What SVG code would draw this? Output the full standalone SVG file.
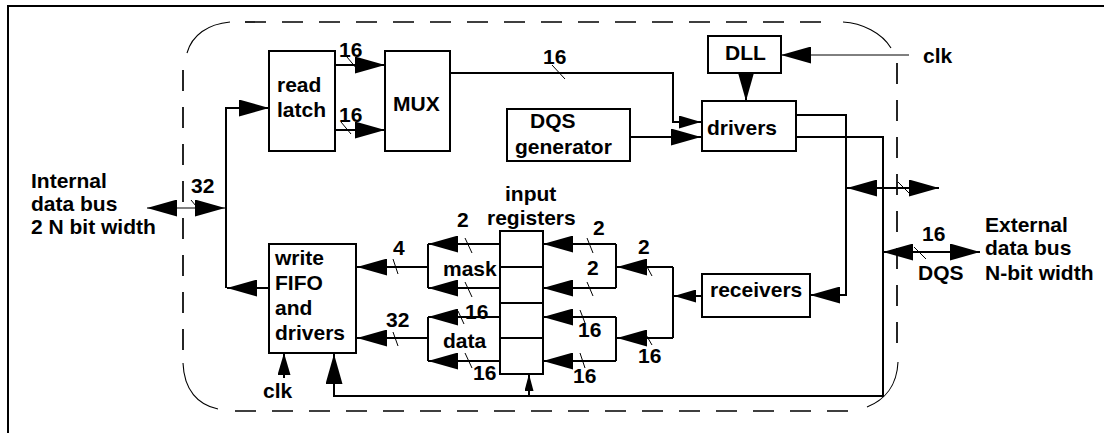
<svg xmlns="http://www.w3.org/2000/svg" width="1104" height="433" viewBox="0 0 1104 433">
  <style>
    text { font-family: "Liberation Sans", Arial, sans-serif; font-weight: bold; font-size: 21px; fill: #000; }
    .box { fill: #fff; stroke: #000; stroke-width: 2; }
    .w { fill: none; stroke: #000; stroke-width: 2; }
    .thin { fill: none; stroke: #000; stroke-width: 1; }
    .tick { stroke: #000; stroke-width: 1; }
    .dash { fill: none; stroke: #000; stroke-width: 1.7; stroke-dasharray: 21 16; }
    .corner { fill: none; stroke: #000; stroke-width: 1.1; }
  </style>
  <defs>
    <marker id="ab" viewBox="0 0 30 17" refX="30" refY="8.5" markerWidth="30" markerHeight="17" orient="auto-start-reverse" markerUnits="userSpaceOnUse">
      <path d="M0,0 L30,8.5 L0,17 Z" fill="#000"/>
    </marker>
    <marker id="am" viewBox="0 0 22 13" refX="22" refY="6.5" markerWidth="22" markerHeight="13" orient="auto-start-reverse" markerUnits="userSpaceOnUse">
      <path d="M0,0 L22,6.5 L0,13 Z" fill="#000"/>
    </marker>
    <marker id="as" viewBox="0 0 17 9" refX="17" refY="4.5" markerWidth="17" markerHeight="9" orient="auto" markerUnits="userSpaceOnUse">
      <path d="M0,0 L17,4.5 L0,9 Z" fill="#000"/>
    </marker>
  </defs>

  <rect width="1104" height="433" fill="#fff"/>
  <!-- page frame -->
  <path class="w" d="M8,433 V6 H1104"/>

  <!-- chip boundary: dashed sides with thin rounded corners -->
  <g id="boundary">
    <line class="dash" x1="245" y1="22" x2="828" y2="22"/>
    <line class="dash" x1="183" y1="70" x2="183" y2="362"/>
    <line class="dash" x1="897" y1="63" x2="897" y2="358"/>
    <line class="dash" x1="235" y1="411" x2="851" y2="411"/>
    <path class="corner" d="M187,53 C192,35 208,24 230,22"/>
    <path class="corner" d="M843,22 C862,23 882,33 891,48"/>
    <path class="corner" d="M898,362 C897,385 885,400 867,407"/>
    <path class="corner" d="M183,363 C184,390 198,405 218,409"/>
  </g>

  <!-- connectors -->
  <g id="connectors">
    <!-- internal data bus -->
    <path class="thin" d="M147,208 H225" marker-start="url(#ab)" marker-end="url(#ab)"/>
    <path class="w" d="M269,288 H227" marker-end="url(#ab)"/>
    <path class="w" d="M226,288 V108 H269" marker-end="url(#ab)"/>
    <!-- read latch to MUX -->
    <path class="w" d="M335,65 H385" marker-end="url(#ab)"/>
    <path class="w" d="M335,130 H385" marker-end="url(#ab)"/>
    <!-- MUX to drivers -->
    <path class="w" d="M450,73 H673 V122 H701" marker-end="url(#am)"/>
    <!-- DQS generator to drivers -->
    <path class="w" d="M630,137 H701" marker-end="url(#ab)"/>
    <!-- DLL to drivers -->
    <path class="w" d="M746,73 V101" marker-end="url(#ab)"/>
    <!-- clk to DLL -->
    <path class="thin" d="M909,55 H781" marker-end="url(#ab)"/>
    <!-- drivers outputs -->
    <path class="w" d="M796,115 H846 V295 H810" marker-end="url(#ab)"/>
    <path class="w" d="M796,137 H883 V396 H334 V354" marker-end="url(#ab)"/>
    <path class="w" d="M847,188 H939" marker-start="url(#ab)" marker-end="url(#ab)"/>
    <path class="w" d="M883,252 H980" marker-start="url(#ab)" marker-end="url(#ab)"/>
    <!-- strobe into input registers -->
    <path class="w" d="M529,396 V374" marker-end="url(#as)"/>
    <!-- receivers fan-out -->
    <path class="w" d="M702,296 H674" marker-end="url(#am)"/>
    <path class="w" d="M673,267 V338"/>
    <path class="w" d="M673,267 H617" marker-end="url(#ab)"/>
    <path class="w" d="M673,338 H617" marker-end="url(#ab)"/>
    <!-- into input registers -->
    <path class="w" d="M616,244 V288"/>
    <path class="w" d="M616,317 V361"/>
    <path class="w" d="M616,244 H543" marker-end="url(#ab)"/>
    <path class="w" d="M616,288 H543" marker-end="url(#ab)"/>
    <path class="w" d="M616,317 H543" marker-end="url(#ab)"/>
    <path class="w" d="M616,361 H543" marker-end="url(#ab)"/>
    <!-- out of input registers -->
    <path class="w" d="M500,244 H428" marker-end="url(#ab)"/>
    <path class="w" d="M500,288 H428" marker-end="url(#ab)"/>
    <path class="w" d="M428,244 V288"/>
    <path class="w" d="M428,267 H357" marker-end="url(#ab)"/>
    <path class="w" d="M500,317 H428" marker-end="url(#ab)"/>
    <path class="w" d="M500,361 H428" marker-end="url(#ab)"/>
    <path class="w" d="M428,317 V361"/>
    <path class="w" d="M428,338 H357" marker-end="url(#ab)"/>
    <!-- clk to write FIFO -->
    <path class="w" d="M284,378 V353" marker-end="url(#am)"/>

    <!-- bus width ticks -->
    <line class="tick" x1="191" y1="200" x2="201" y2="212"/>
    <line class="tick" x1="347" y1="57" x2="357" y2="69"/>
    <line class="tick" x1="341" y1="122" x2="351" y2="134"/>
    <line class="tick" x1="552" y1="65" x2="565" y2="79"/>
    <line class="tick" x1="898" y1="182" x2="909" y2="193"/>
    <line class="tick" x1="914" y1="247" x2="926" y2="259"/>
    <line class="tick" x1="393" y1="259" x2="398" y2="274"/>
    <line class="tick" x1="393" y1="332" x2="398" y2="346"/>
    <line class="tick" x1="465" y1="238" x2="472" y2="253"/>
    <line class="tick" x1="465" y1="282" x2="472" y2="297"/>
    <line class="tick" x1="458" y1="311" x2="464" y2="324"/>
    <line class="tick" x1="465" y1="353" x2="472" y2="368"/>
    <line class="tick" x1="587" y1="238" x2="593" y2="253"/>
    <line class="tick" x1="587" y1="282" x2="593" y2="296"/>
    <line class="tick" x1="580" y1="310" x2="585" y2="323"/>
    <line class="tick" x1="580" y1="353" x2="585" y2="368"/>
    <line class="tick" x1="645" y1="263" x2="652" y2="276"/>
    <line class="tick" x1="645" y1="333" x2="652" y2="345"/>

    <!-- bus width labels -->
    <text x="191" y="193">32</text>
    <text x="339" y="57">16</text>
    <text x="339" y="122">16</text>
    <text x="543" y="64">16</text>
    <text x="457" y="227">2</text>
    <text x="393" y="255">4</text>
    <text x="465" y="319">16</text>
    <text x="386" y="327">32</text>
    <text x="473" y="380">16</text>
    <text x="593" y="235">2</text>
    <text x="587" y="275">2</text>
    <text x="578" y="337">16</text>
    <text x="573" y="383">16</text>
    <text x="638" y="254">2</text>
    <text x="638" y="363">16</text>
    <text x="922" y="241">16</text>
    <text x="918" y="280">DQS</text>
    <text x="923" y="63">clk</text>
    <text x="263" y="398">clk</text>
  </g>

  <g id="internal-bus-label">
    <text x="31" y="188">Internal</text>
    <text x="31" y="211">data bus</text>
    <text x="31" y="234">2 N bit width</text>
  </g>

  <g id="external-bus-label">
    <text x="985" y="232">External</text>
    <text x="985" y="255">data bus</text>
    <text x="985" y="280">N-bit width</text>
  </g>

  <g id="read-latch">
    <rect class="box" x="269" y="51" width="66" height="100"/>
    <text x="277" y="92">read</text>
    <text x="277" y="117">latch</text>
  </g>

  <g id="mux">
    <rect class="box" x="385" y="51" width="65" height="100"/>
    <text x="393" y="111">MUX</text>
  </g>

  <g id="dqs-generator">
    <rect class="box" x="507" y="109" width="123" height="52"/>
    <text x="530" y="128">DQS</text>
    <text x="515" y="154">generator</text>
  </g>

  <g id="dll">
    <rect class="box" x="708" y="36" width="73" height="37"/>
    <text x="725" y="60">DLL</text>
  </g>

  <g id="drivers">
    <rect class="box" x="702" y="101" width="94" height="50"/>
    <text x="707" y="135">drivers</text>
  </g>

  <g id="receivers">
    <rect class="box" x="702" y="274" width="108" height="43"/>
    <text x="710" y="297">receivers</text>
  </g>

  <g id="input-registers">
    <text x="505" y="201">input</text>
    <text x="487" y="225">registers</text>
    <rect class="box" x="500" y="231" width="43" height="143"/>
    <path class="w" d="M500,267 H543 M500,303 H543 M500,338 H543"/>
  </g>

  <g id="mask">
    <text x="443" y="276">mask</text>
  </g>

  <g id="data">
    <text x="443" y="348">data</text>
  </g>

  <g id="write-fifo">
    <rect class="box" x="269" y="244" width="87" height="109"/>
    <text x="275" y="265">write</text>
    <text x="275" y="290">FIFO</text>
    <text x="275" y="315">and</text>
    <text x="275" y="340">drivers</text>
  </g>
</svg>
